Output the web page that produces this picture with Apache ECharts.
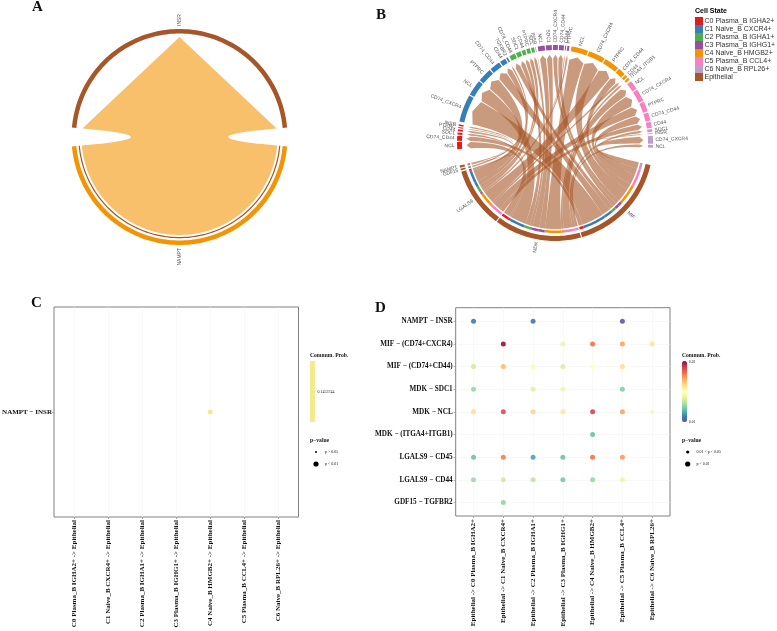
<!DOCTYPE html>
<html><head><meta charset="utf-8">
<style>html,body{margin:0;padding:0;background:#fff}#c{width:777px;height:631px}</style>
<script src="https://cdn.jsdelivr.net/npm/echarts@6/dist/echarts.min.js"></script>
</head><body><div id="c"></div>
<script>
const cellNames = ['C0 Plasma_B IGHA2+','C1 Naive_B CXCR4+','C2 Plasma_B IGHA1+','C3 Plasma_B IGHG1+','C4 Naive_B HMGB2+','C5 Plasma_B CCL4+','C6 Naive_B RPL26+'];
const legendNames = cellNames.concat(['Epithelial']);
const palette = ['#E41A1C','#377EB8','#4DAF4A','#984EA3','#F29403','#F781BF','#BC9DCC','#A65628'];
// Panel A: NAMPT -> INSR, C4 to Epithelial
const chordAValues = {NAMPT:170, INSR:170};
// Panel B: receptor sectors per cell (clockwise), weights read from the arc lengths
const c0Receptors = [['NCL',4.2],['CD74_CD44',3],['SDC1',1.2],['CD44',1.2],['PTPRC',.6],['INSR',.9]];
const c1Receptors = [['CD74_CXCR4',16.3],['NCL',9.4],['PTPRC',8.4],['CD74_CD44',6.3],['CD44',3.5],['TGFBR2',1]];
const c2Receptors = [['CD74_CD44',3.5],['SDC1',2.8],['CD44',2.2],['PTPRC',2.2],['NCL',1.8],['INSR',.3]];
const c3Receptors = [['NCL',4.1],['SDC1',3.5],['CD74_CXCR4',2.9],['CD74_CD44',2.9],['CD44',.6],['PTPRC',1.2]];
const c4Receptors = [['NCL',10],['CD74_CXCR4',10],['PTPRC',9],['CD74_CD44',4.5],['CD44',1.6],['ITGA4_ITGB1',1.4]];
const c5Receptors = [['NCL',5.4],['CD74_CXCR4',7.4],['PTPRC',6],['CD74_CD44',5],['CD44',3.6],['SDC1',1.6],['INSR',.5]];
const c6Receptors = [['CD74_CXCR4',4.6],['NCL',1.7]];
const cellReceptors = [c0Receptors,c1Receptors,c2Receptors,c3Receptors,c4Receptors,c5Receptors,c6Receptors];
const ligands = [['MIF',61],['MDK',51.8],['LGALS9',36],['GDF15',1],['NAMPT',1.3]];
const ligandOf = {CD74_CXCR4:'MIF',CD74_CD44:'MIF',SDC1:'MDK',NCL:'MDK',ITGA4_ITGB1:'MDK',PTPRC:'LGALS9',CD44:'LGALS9',TGFBR2:'GDF15',INSR:'NAMPT'};
// Panels C and D
const senderLabels = cellNames.map(n => n + ' -> Epithelial');
const receiverLabels = cellNames.map(n => 'Epithelial -> ' + n);
const pairsC = ['NAMPT \u2212 INSR'];
const probC = [null,null,null,null,0.1453744,null,null];
const pairsD = ['NAMPT \u2212 INSR','MIF \u2212 (CD74+CXCR4)','MIF \u2212 (CD74+CD44)','MDK \u2212 SDC1','MDK \u2212 NCL','MDK \u2212 (ITGA4+ITGB1)','LGALS9 \u2212 CD45','LGALS9 \u2212 CD44','GDF15 \u2212 TGFBR2'];
const probNampt  = [.0112,null,.0112,null,null,.0102,null];
const probCxcr4  = [null,.03,null,.0184,.026,.0244,.0216];
const probCd74   = [.0172,.0236,.0194,.0176,.02,.022,null];
const probSdc1   = [.0154,null,.0178,.0186,null,.0148,null];
const probNcl    = [.022,.0276,.0224,.0216,.028,.0244,.0184];
const probItga   = [null,null,null,null,.014,null,null];
const probCd45   = [.014,.0256,.0128,.014,.026,.0246,null];
const probCd44   = [.0156,.017,.0166,.0144,.0154,.0184,null];
const probGdf    = [null,.0152,null,null,null,null,null];
const probD = [probNampt,probCxcr4,probCd74,probSdc1,probNcl,probItga,probCd45,probCd44,probGdf];
const weakDots = ['4-6']; // row-column with 0.01 < p < 0.05

const SANS = 'Liberation Sans', SERIF = 'Liberation Serif';
const spectral = ['#5E4FA2','#3288BD','#66C2A5','#ABDDA4','#E6F598','#FFFFBF','#FEE08B','#FDAE61','#F46D43','#D53E4F','#9E0142'];
const rad = d => d*Math.PI/180;
const pol = (r,t) => [r*Math.sin(rad(t)), r*Math.cos(rad(t))]; // y up on the hidden value axis
function arcPts(r,t0,t1){const n=Math.max(2,Math.ceil(Math.abs(t1-t0)/1.5)+1),o=[];for(let i=0;i<n;i++)o.push(pol(r,t0+(t1-t0)*i/(n-1)));return o;}
function band(r0,r1,t0,t1){return arcPts(r1,t0,t1).concat(arcPts(r0,t1,t0));}
function bez(p,q,n=36){const o=[];for(let i=1;i<n;i++){const s=i/n,a=(1-s)*(1-s),b=s*s;o.push([a*p[0]+b*q[0],a*p[1]+b*q[1]]);}return o;}
function ribbon(rs,a,b,rBase,rTip,c,d){
  const sA=arcPts(rs,a,b), rc=pol(rBase,c), rd=pol(rBase,d), tip=pol(rTip,(c+d)/2);
  return sA.concat(bez(pol(rs,b),rc),[rc,tip,rd],bez(rd,pol(rs,a)));
}
// layout of panel B from the weights
const START_RECEIVERS = 266.4, SECTOR_GAP = .7, CELL_GAP = 1.2;
const arcsB=[], linksB=[], labelsB=[], tracksB=[];
let t = START_RECEIVERS; const sectorsByLigand = {};
cellReceptors.forEach((list,ci)=>{
  list.forEach(([name,w],i)=>{
    arcsB.push({t0:t,t1:t+w,color:palette[ci]});
    labelsB.push({t:t+w/2,text:name});
    (sectorsByLigand[ligandOf[name]]=sectorsByLigand[ligandOf[name]]||[]).push({ci,name,w,t0:t,t1:t+w});
    t+=w+(i<list.length-1?SECTOR_GAP:0);
  });
  t+=ci===0?1.7:CELL_GAP;
});
let e=103;
ligands.forEach(([name,w],li)=>{
  arcsB.push({t0:e,t1:e+w,color:palette[7]});
  labelsB.push({t:e+w/2,text:name});
  const list=(sectorsByLigand[name]||[]).slice().sort((p,q)=>q.ci-p.ci||q.t0-p.t0);
  const tot=list.reduce((s,x)=>s+x.w,0); let cur=e;
  list.forEach(x=>{
    const span=x.w/tot*w;
    tracksB.push({t0:cur,t1:cur+span,color:palette[x.ci]});
    linksB.push({a:cur,b:cur+span,c:x.t0,d:x.t1});
    cur+=span;
  });
  e+=w+(li<2?.6:.7);
});
const idx = a => a.map((_,i)=>[i]);
function polySeries(xi,items,points,colorOf,z){
  return {type:'custom',coordinateSystem:'cartesian2d',xAxisIndex:xi,yAxisIndex:xi,clip:false,silent:true,z,data:idx(items),
    renderItem:(p,api)=>({type:'polygon',shape:{points:points(items[p.dataIndex]).map(q=>api.coord(q))},style:{fill:colorOf(items[p.dataIndex]),stroke:null}})};
}
function labelSeries(xi,items,r,size){
  return {type:'custom',coordinateSystem:'cartesian2d',xAxisIndex:xi,yAxisIndex:xi,clip:false,silent:true,z:6,data:idx(items),
    renderItem:(p,api)=>{const it=items[p.dataIndex],q=api.coord(pol(r,it.t)),right=((it.t%360)+360)%360<180;
      const deg=right?90-it.t:270-it.t;
      return {type:'text',x:q[0],y:q[1],rotation:rad(deg),style:{text:it.text,fontFamily:SANS,fontSize:size,fill:'#555',textAlign:right?'left':'right',textVerticalAlign:'middle'}};}};
}
// Panel A items
const aSpan = chordAValues.NAMPT, aHalf = aSpan/2;
const arcsA=[{t0:-aHalf,t1:aHalf,color:palette[7],r0:103.5,r1:108},{t0:180-aHalf,t1:180+aHalf,color:palette[4],r0:103.5,r1:108},{t0:180-aHalf,t1:180+aHalf,color:palette[7],r0:100,r1:101.2}];
const linkA=[{a:180-aHalf,b:180+aHalf,c:-aHalf,d:aHalf}];
const labelsA=[{t:0,text:'INSR'},{t:180,text:'NAMPT'}];

function hiddenGrid(left,top){return {left,top,width:240,height:240,show:false,outerBoundsMode:'none'};}
function hiddenAxis(idx){return {type:'value',min:-120,max:120,show:false,gridIndex:idx};}
function dotAxisX(gi,labels){return {type:'value',gridIndex:gi,min:-.6,max:6.6,
  axisLine:{show:false,onZero:false},axisTick:{length:2,lineStyle:{color:'#888',width:.7},customValues:labels.map((_,i)=>i)},
  splitLine:{show:true,lineStyle:{color:'#f3f3f3',width:.6}},
  axisLabel:{customValues:labels.map((_,i)=>i),rotate:90,margin:3,fontFamily:SERIF,fontWeight:'bold',fontSize:7,color:'#111',formatter:v=>labels[v]}};}
function dotSeries(xi,matrix,color){
  const pts=[];matrix.forEach((row,r)=>row.forEach((v,c)=>{if(v!=null)pts.push([c,r,v,weakDots.includes(r+'-'+c)&&!color?3:5]);}));
  return {type:'scatter',xAxisIndex:xi,yAxisIndex:xi,data:pts,symbolSize:d=>d[3],z:4,silent:true,itemStyle:color?{color,opacity:1}:{opacity:.88}};
}
const txt=(x,y,text,size,bold,extra)=>({type:'text',x,y,z:10,silent:true,style:Object.assign({text,fontFamily:SERIF,fontSize:size,fontWeight:bold?'bold':'normal',fill:'#111',textVerticalAlign:'middle'},extra||{})});
const dot=(x,y,r)=>({type:'circle',z:10,silent:true,shape:{cx:x,cy:y,r},style:{fill:'#000'}});
const g=[
  txt(32,7,'A',15,true),txt(376,15,'B',15,true),txt(31,303,'C',15,true),txt(375,308,'D',15,true),
  {type:'text',x:695,y:11,z:10,silent:true,style:{text:'Cell State',fontFamily:SANS,fontSize:7,fontWeight:'bold',fill:'#000',textVerticalAlign:'middle'}},
  txt(310,356,'Commun. Prob.',5.6,true),
  {type:'rect',z:10,silent:true,shape:{x:310,y:361,width:5,height:61},style:{fill:'#F3EA8F'}},
  txt(317.5,392,'0.1453744',4,false),
  txt(310,441,'p\u2212value',5.6,true),
  dot(316,452,1),txt(325,452,'p > 0.05',4,false),
  dot(316,464,2.6),txt(325,464,'p < 0.01',4,false),
  txt(682,356,'Commun. Prob.',5.6,true),
  txt(689,362,'0.03',3.5,false),txt(689,422,'0.01',3.5,false),
  txt(682,441,'p\u2212value',5.6,true),
  dot(687.7,452,1.6),txt(696.5,452,'0.01 < p < 0.05',4,false),
  dot(687.7,464,2.6),txt(696.5,464,'p < 0.01',4,false)
];
legendNames.forEach((n,i)=>{
  const y=21+i*8;
  g.push({type:'rect',z:10,silent:true,shape:{x:695,y:y-4,width:8,height:8},style:{fill:palette[i]}});
  g.push({type:'text',x:704.5,y,z:10,silent:true,style:{text:n,fontFamily:SANS,fontSize:7,fill:'#333',textVerticalAlign:'middle'}});
});
const seriesList=[
    polySeries(0,linkA,l=>ribbon(98,l.a,l.b,97.5,100,l.c,l.d),()=>'#F9C06C',1),
    polySeries(0,arcsA,a=>band(a.r0,a.r1,a.t0,a.t1),a=>a.color,3),
    labelSeries(0,labelsA,111,5),
    polySeries(1,linksB,l=>ribbon(86,l.a,l.b,84.5,88.5,l.c,l.d),()=>'rgba(166,86,40,0.6)',1),
    polySeries(1,arcsB,a=>band(93,98,a.t0,a.t1),a=>a.color,3),
    polySeries(1,tracksB,a=>band(87.5,90,a.t0,a.t1),a=>a.color,3),
    labelSeries(1,labelsB,100.5,5),
    dotSeries(2,[probC],'#F3EA8F'),
    dotSeries(3,probD)
];
const option={
  animation:false,backgroundColor:'#fff',
  grid:[hiddenGrid(59.5,17),hiddenGrid(435,23),
    {left:54,top:307,width:244.5,height:210,show:true,borderColor:'#808080',borderWidth:1,backgroundColor:'#fff',outerBoundsMode:'none'},
    {left:455.7,top:307.7,width:214.3,height:208.3,show:true,borderColor:'#808080',borderWidth:1,backgroundColor:'#fff',outerBoundsMode:'none'}],
  xAxis:[hiddenAxis(0),hiddenAxis(1),dotAxisX(2,senderLabels),dotAxisX(3,receiverLabels)],
  yAxis:[hiddenAxis(0),hiddenAxis(1),
    {type:'value',gridIndex:2,min:-1,max:1,axisLine:{show:false,onZero:false},splitLine:{show:false},axisTick:{length:2,lineStyle:{color:'#888',width:.7},customValues:[0]},
     axisLabel:{customValues:[0],margin:2,fontFamily:SERIF,fontWeight:'bold',fontSize:7,color:'#111',formatter:v=>pairsC[v]}},
    {type:'value',gridIndex:3,min:-.6,max:8.6,inverse:true,axisLine:{show:false,onZero:false},splitLine:{show:true,lineStyle:{color:'#f3f3f3',width:.6}},axisTick:{length:2,lineStyle:{color:'#888',width:.7},customValues:pairsD.map((_,i)=>i)},
     axisLabel:{customValues:pairsD.map((_,i)=>i),margin:3,fontFamily:SERIF,fontWeight:'bold',fontSize:7.2,color:'#111',formatter:v=>pairsD[v]}}],
  visualMap:[{type:'continuous',seriesIndex:8,dimension:2,min:.01,max:.03,inRange:{color:spectral},show:true,left:682,top:361,itemWidth:5,itemHeight:61,padding:0,calculable:false,hoverLink:false,textStyle:{fontSize:0},text:['','']}],
  graphic:{elements:g},
  series:seriesList
};
const chart=echarts.init(document.getElementById('c'),null,{renderer:'canvas'});
chart.setOption(option);
</script></body></html>
